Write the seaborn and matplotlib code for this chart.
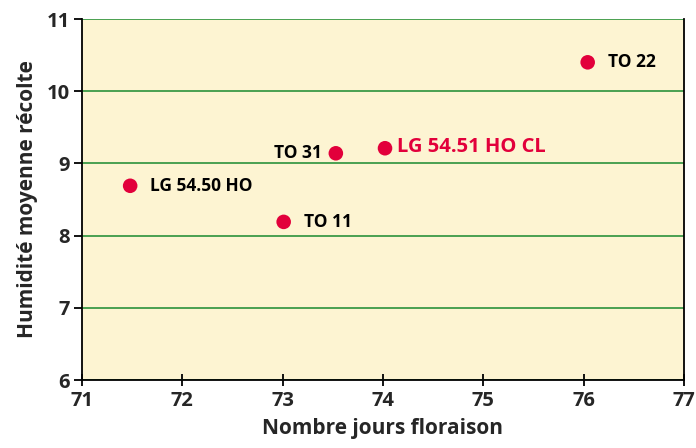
import matplotlib.pyplot as plt
import pandas as pd
import seaborn as sns

# ── Data ─────────────────────────────────────────────────────────────
varieties = ["LG 54.50 HO", "TO 11", "TO 31", "LG 54.51 HO CL", "TO 22"]
jours_floraison = [71.48, 73.01, 73.53, 74.02, 76.04]
humidite = [8.69, 8.19, 9.14, 9.21, 10.40]
df = pd.DataFrame({"variete": varieties, "jours": jours_floraison, "humidite": humidite})

RED = "#e2003b"
GREEN = "#3c9a47"
BG = "#fdf4d2"

sns.set_theme(style="white")
plt.rcParams["font.family"] = ["Open Sans", "DejaVu Sans"]

fig = plt.figure(figsize=(6.96, 4.48), dpi=100)
ax = fig.add_axes([82 / 696, 1 - 380 / 448, (684 - 82) / 696, (380 - 19) / 448])
ax.set_facecolor(BG)

sns.scatterplot(data=df, x="jours", y="humidite", ax=ax, color=RED, s=110,
                edgecolor="none", zorder=3, legend=False)

# labels next to points
for name, x, y in zip(varieties, jours_floraison, humidite):
    if name == "TO 31":
        ax.text(x - 0.14, y, name, ha="right", va="center", fontsize=12.5,
                fontweight="bold", color="black")
    elif name == "LG 54.51 HO CL":
        ax.text(x + 0.12, y + 0.02, name, ha="left", va="center", fontsize=14.5,
                fontweight="bold", color=RED)
    else:
        ax.text(x + 0.2, y, name, ha="left", va="center", fontsize=12.5,
                fontweight="bold", color="black")

ax.set_xlim(71, 77)
ax.set_ylim(6, 11)
ax.set_xticks(range(71, 78))
ax.set_yticks(range(6, 12))
ax.yaxis.grid(True, color=GREEN, linewidth=1.3)
ax.xaxis.grid(False)
ax.set_axisbelow(True)

for side in ["left", "bottom", "right"]:
    ax.spines[side].set_visible(True)
    ax.spines[side].set_color("black")
    ax.spines[side].set_linewidth(1.3)
ax.spines["top"].set_visible(False)

ax.tick_params(axis="y", direction="out", length=6, width=1.3, color="black",
               labelsize=14.5, pad=3, left=True)
ax.tick_params(axis="x", direction="inout", length=8, width=1.3, color="black",
               labelsize=14.5, pad=4, bottom=True)
for lbl in ax.get_xticklabels() + ax.get_yticklabels():
    lbl.set_fontweight("bold")

ax.set_xlabel("Nombre jours floraison", fontsize=15, fontweight="bold", labelpad=5)
ax.set_ylabel("Humidité moyenne récolte", fontsize=15, fontweight="bold", labelpad=6)

plt.savefig("out.png", dpi=100, facecolor="white")
